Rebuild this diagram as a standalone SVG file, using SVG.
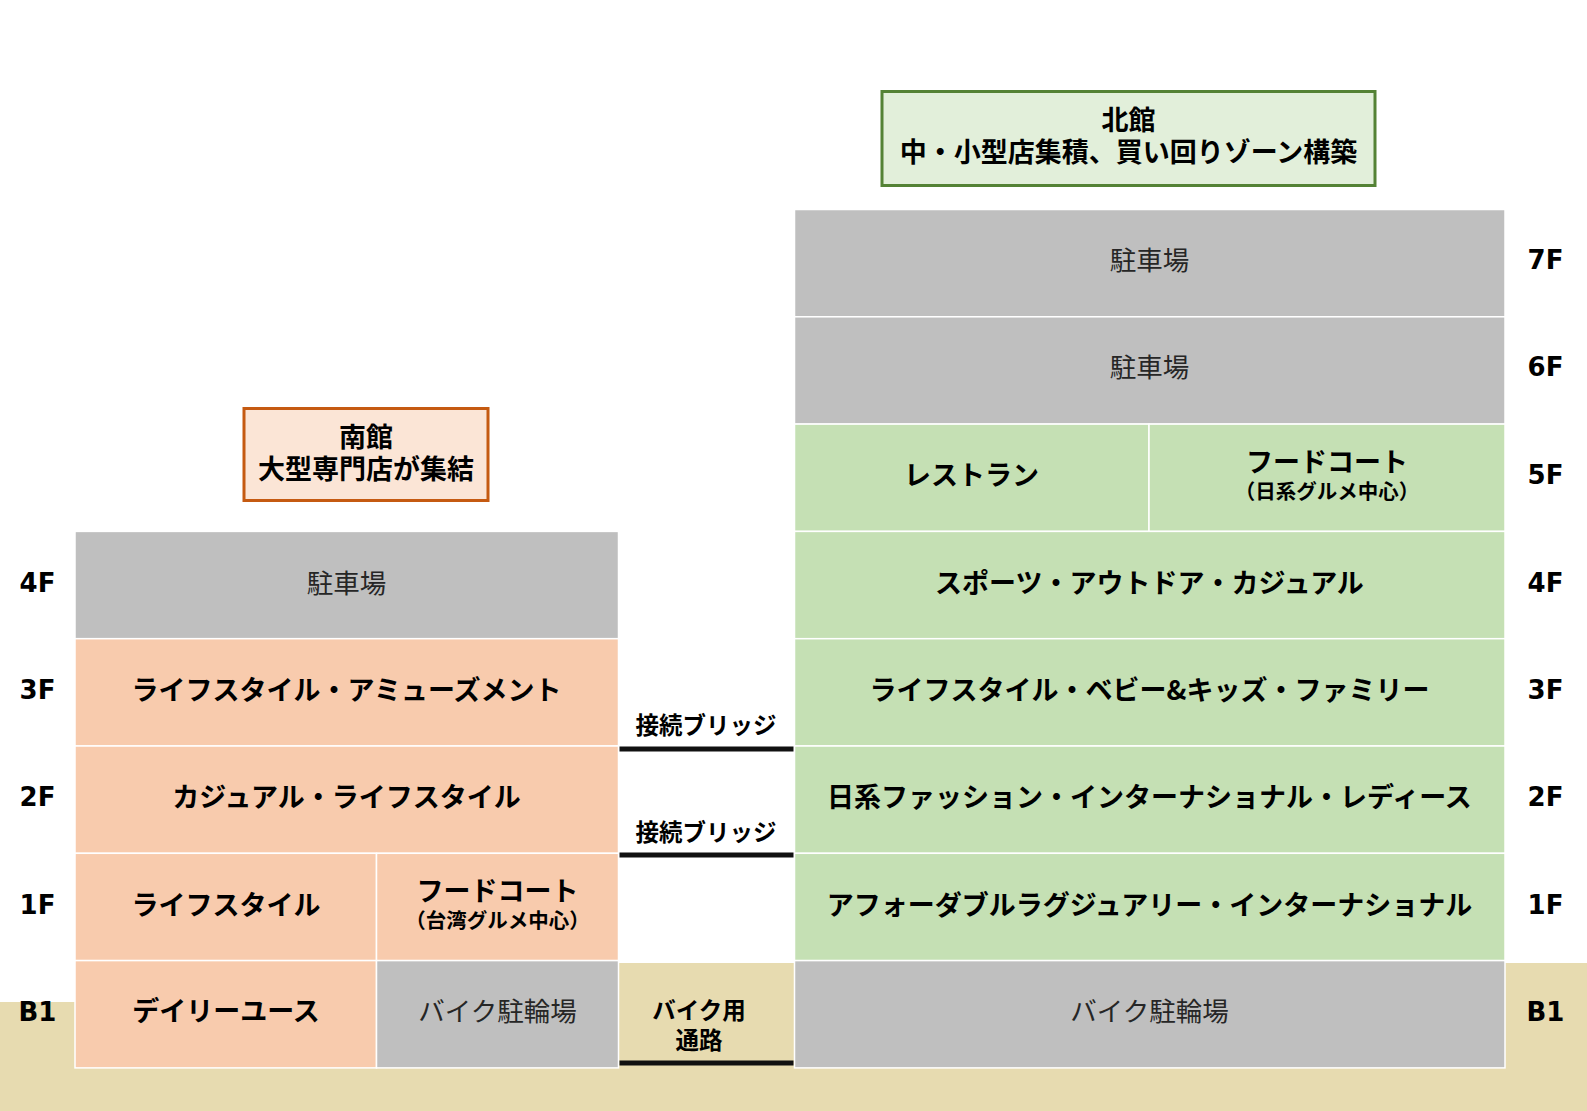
<svg xmlns="http://www.w3.org/2000/svg" width="1587" height="1111" viewBox="0 0 1587 1111">
<style>
.gray{fill:#BFBFBF;stroke:#FFFFFF;stroke-width:1.5}
.or{fill:#F8CBAD;stroke:#FFFFFF;stroke-width:1.5}
.gr{fill:#C5E0B4;stroke:#FFFFFF;stroke-width:1.5}
.tan{fill:#E7DBB0}
text{font-family:"Noto Sans CJK JP","Noto Sans",sans-serif;text-anchor:middle;dominant-baseline:central}
.b{font-size:27px;font-weight:bold;fill:#000}
.r{font-size:26.5px;font-weight:normal;fill:#262626}
.s{font-size:20.5px;font-weight:bold;fill:#000}
.m{font-size:23.5px;font-weight:bold;fill:#000}
.fl{font-family:"DejaVu Sans",sans-serif;font-size:26px;font-weight:bold;fill:#000}
.bar{stroke:#111;stroke-width:5}
</style>
<g id="ground">
<polygon class="tan" points="0,1002 618.5,1002 618.5,963 1587,963 1587,1111 0,1111"/>
</g>
<g id="south-label">
<rect x="244" y="408.5" width="244" height="92" fill="#FBE5D6" stroke="#C55A11" stroke-width="3"/>
<text class="b" x="366" y="435.5">南館</text>
<text class="b" x="366" y="467.5">大型専門店が集結</text>
</g>
<g id="north-label">
<rect x="882" y="91.5" width="493" height="94" fill="#E2EFDA" stroke="#548235" stroke-width="3"/>
<text class="b" x="1128.5" y="118">北館</text>
<text class="b" x="1128.5" y="150">中・小型店集積、買い回りゾーン構築</text>
</g>
<g id="south-building">
<g id="s-4f"><rect class="gray" x="75" y="531.4" width="543.5" height="107.3"/><text class="r" x="346.5" y="581">駐車場</text></g>
<g id="s-3f"><rect class="or" x="75" y="638.7" width="543.5" height="107.3"/><text class="b" x="346.5" y="688">ライフスタイル・アミューズメント</text></g>
<g id="s-2f"><rect class="or" x="75" y="746" width="543.5" height="107.3"/><text class="b" x="346.5" y="795.5">カジュアル・ライフスタイル</text></g>
<g id="s-1f-a"><rect class="or" x="75" y="853.3" width="301.5" height="107.3"/><text class="b" x="226" y="903">ライフスタイル</text></g>
<g id="s-1f-b"><rect class="or" x="376.5" y="853.3" width="242" height="107.3"/><text class="b" x="497.5" y="889">フードコート</text><text class="s" x="497.5" y="919">（台湾グルメ中心）</text></g>
<g id="s-b1-a"><rect class="or" x="75" y="960.6" width="301.5" height="107.3"/><text class="b" x="226" y="1009">デイリーユース</text></g>
<g id="s-b1-b"><rect class="gray" x="376.5" y="960.6" width="242" height="107.3"/><text class="r" x="497.5" y="1009">バイク駐輪場</text></g>
</g>
<g id="north-building">
<g id="n-7f"><rect class="gray" x="794.5" y="209.5" width="710.5" height="107.3"/><text class="r" x="1149.5" y="258">駐車場</text></g>
<g id="n-6f"><rect class="gray" x="794.5" y="316.8" width="710.5" height="107.3"/><text class="r" x="1149.5" y="365">駐車場</text></g>
<g id="n-5f-a"><rect class="gr" x="794.5" y="424.1" width="354.5" height="107.3"/><text class="b" x="971.5" y="473">レストラン</text></g>
<g id="n-5f-b"><rect class="gr" x="1149" y="424.1" width="356" height="107.3"/><text class="b" x="1327" y="460">フードコート</text><text class="s" x="1327" y="489.5">（日系グルメ中心）</text></g>
<g id="n-4f"><rect class="gr" x="794.5" y="531.4" width="710.5" height="107.3"/><text class="b" x="1149.5" y="581">スポーツ・アウトドア・カジュアル</text></g>
<g id="n-3f"><rect class="gr" x="794.5" y="638.7" width="710.5" height="107.3"/><text class="b" x="1149.5" y="688">ライフスタイル・ベビー&amp;キッズ・ファミリー</text></g>
<g id="n-2f"><rect class="gr" x="794.5" y="746" width="710.5" height="107.3"/><text class="b" x="1149.5" y="795.5">日系ファッション・インターナショナル・レディース</text></g>
<g id="n-1f"><rect class="gr" x="794.5" y="853.3" width="710.5" height="107.3"/><text class="b" x="1149.5" y="903">アフォーダブルラグジュアリー・インターナショナル</text></g>
<g id="n-b1"><rect class="gray" x="794.5" y="960.6" width="710.5" height="107.3"/><text class="r" x="1149.5" y="1009">バイク駐輪場</text></g>
</g>
<g id="middle">
<g id="bridge-3f"><text class="m" x="706" y="724">接続ブリッジ</text></g>
<g id="bridge-2f"><text class="m" x="706" y="831">接続ブリッジ</text></g>
<g id="bike-path"><text class="m" x="699" y="1009">バイク用</text><text class="m" x="699" y="1039">通路</text></g>
</g>
<g id="connectors">
<line class="bar" x1="619.5" y1="749" x2="793.5" y2="749"/>
<line class="bar" x1="619.5" y1="855" x2="793.5" y2="855"/>
<line class="bar" x1="619.5" y1="1063" x2="793.5" y2="1063"/>
</g>
<g id="floor-labels">
<text class="fl" x="37.5" y="583">4F</text>
<text class="fl" x="37.5" y="690">3F</text>
<text class="fl" x="37.5" y="797">2F</text>
<text class="fl" x="37.5" y="905">1F</text>
<text class="fl" x="37.5" y="1012">B1</text>
<text class="fl" x="1545.5" y="260">7F</text>
<text class="fl" x="1545.5" y="367">6F</text>
<text class="fl" x="1545.5" y="475">5F</text>
<text class="fl" x="1545.5" y="583">4F</text>
<text class="fl" x="1545.5" y="690">3F</text>
<text class="fl" x="1545.5" y="797">2F</text>
<text class="fl" x="1545.5" y="905">1F</text>
<text class="fl" x="1545.5" y="1012">B1</text>
</g>
</svg>
